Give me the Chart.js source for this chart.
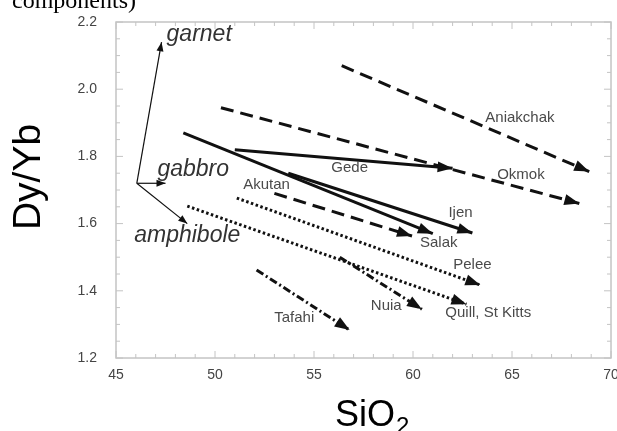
<!DOCTYPE html>
<html>
<head>
<meta charset="utf-8">
<script src="https://cdn.jsdelivr.net/npm/chart.js@4/dist/chart.umd.min.js"></script>
<style>
  html, body { margin: 0; padding: 0; background: #fff; }
  #wrap { width: 617px; height: 431px; position: relative; }
</style>
</head>
<body>
<div id="wrap"><canvas id="dyyb"></canvas></div>
<script>
// arrows: start and end of each trend (SiO2, Dy/Yb)
var arrowNames = ['garnet', 'gabbro', 'amphibole', 'Salak', 'Ijen', 'Gede', 'Aniakchak', 'Okmok', 'Akutan', 'Pelee', 'Quill', 'Nuia', 'Tafahi'];
var startSiO2 = [46.05, 46.05, 46.05, 48.4, 53.7, 51.0, 56.4, 50.3, 53.0, 51.1, 48.6, 56.3, 52.1];
var startDyYb = [1.72, 1.72, 1.72, 1.87, 1.75, 1.82, 2.07, 1.945, 1.69, 1.676, 1.652, 1.50, 1.462];
var endSiO2 = [47.3, 47.5, 48.6, 61.0, 63.0, 62.0, 68.9, 68.4, 59.95, 63.4, 62.7, 60.45, 56.8];
var endDyYb = [2.14, 1.72, 1.60, 1.57, 1.572, 1.765, 1.755, 1.66, 1.563, 1.417, 1.36, 1.345, 1.283];

// volcano labels
var volcanoLabels = ['Aniakchak', 'Okmok', 'Gede', 'Ijen', 'Salak', 'Pelee', 'Quill, St Kitts', 'Nuia', 'Tafahi', 'Akutan'];
var volcanoSiO2 = [65.4, 65.45, 56.8, 62.4, 61.3, 63.0, 63.8, 58.65, 54.0, 52.6];
var volcanoDyYb = [1.914, 1.745, 1.765, 1.631, 1.542, 1.477, 1.334, 1.355, 1.319, 1.715];

// mineral labels
var mineralLabels = ['garnet', 'gabbro', 'amphibole'];
var mineralSiO2 = [49.2, 48.9, 48.6];
var mineralDyYb = [2.161, 1.760, 1.563];

// axis ticks
var xTicks = [45, 50, 55, 60, 65, 70];
var yTicks = [1.2, 1.4, 1.6, 1.8, 2.0, 2.2];

var lineStyle = {
  thin: { width: 1.2, dash: [], head: [9, 3.5] },
  solid: { width: 3, dash: [], head: [15, 5.5] },
  dashed: { width: 3, dash: [13, 7], head: [15, 5.5] },
  dotted: { width: 3, dash: [2.5, 2.5], head: [15, 5.5] },
  dashdot: { width: 3, dash: [8, 3, 2, 3], head: [15, 5.5] }
};
var kindOf = {
  garnet: 'thin', gabbro: 'thin', amphibole: 'thin',
  Salak: 'solid', Ijen: 'solid', Gede: 'solid',
  Aniakchak: 'dashed', Okmok: 'dashed', Akutan: 'dashed',
  Pelee: 'dotted', Quill: 'dotted',
  Nuia: 'dashdot', Tafahi: 'dashdot'
};

var datasets = arrowNames.map(function (name, i) {
  var st = lineStyle[kindOf[name]];
  return {
    label: name,
    data: [{ x: startSiO2[i], y: startDyYb[i] }, { x: endSiO2[i], y: endDyYb[i] }],
    showLine: true,
    borderColor: '#111',
    borderWidth: st.width,
    borderDash: st.dash,
    borderCapStyle: 'butt',
    pointRadius: 0,
    fill: false
  };
});

// arrow heads at the end point of each line
var arrowHeads = {
  id: 'arrowHeads',
  afterDatasetsDraw: function (chart) {
    var ctx = chart.ctx;
    chart.data.datasets.forEach(function (ds, i) {
      var pts = chart.getDatasetMeta(i).data;
      var a = pts[0], b = pts[1];
      var head = lineStyle[kindOf[ds.label]].head;
      var ang = Math.atan2(b.y - a.y, b.x - a.x);
      ctx.save();
      ctx.translate(b.x, b.y);
      ctx.rotate(ang);
      ctx.fillStyle = '#111';
      ctx.beginPath();
      ctx.moveTo(0, 0);
      ctx.lineTo(-head[0], -head[1]);
      ctx.lineTo(-head[0], head[1]);
      ctx.closePath();
      ctx.fill();
      ctx.restore();
    });
  }
};

// frame with inward ticks and all text
var frame = {
  id: 'frame',
  afterDraw: function (chart) {
    var ctx = chart.ctx, ca = chart.chartArea;
    var xs = chart.scales.x, ys = chart.scales.y;
    ctx.save();
    ctx.strokeStyle = '#c4c4c4';
    ctx.lineWidth = 1.5;
    ctx.strokeRect(ca.left, ca.top, ca.right - ca.left, ca.bottom - ca.top);
    ctx.lineWidth = 1;
    for (var v = 45; v <= 70; v++) {
      var px = xs.getPixelForValue(v);
      var len = v % 5 === 0 ? 7 : 4;
      ctx.beginPath();
      ctx.moveTo(px, ca.bottom); ctx.lineTo(px, ca.bottom - len);
      ctx.moveTo(px, ca.top); ctx.lineTo(px, ca.top + len);
      ctx.stroke();
    }
    for (var k = 0; k <= 20; k++) {
      var val = 1.2 + k * 0.05;
      var py = ys.getPixelForValue(val);
      var l2 = k % 4 === 0 ? 7 : 4;
      ctx.beginPath();
      ctx.moveTo(ca.left, py); ctx.lineTo(ca.left + l2, py);
      ctx.moveTo(ca.right, py); ctx.lineTo(ca.right - l2, py);
      ctx.stroke();
    }

    // volcano names
    ctx.fillStyle = '#4a4a4a';
    ctx.font = '15px "Liberation Sans", Arial, sans-serif';
    ctx.textAlign = 'center';
    ctx.textBaseline = 'middle';
    volcanoLabels.forEach(function (t, i) {
      ctx.fillText(t, xs.getPixelForValue(volcanoSiO2[i]), ys.getPixelForValue(volcanoDyYb[i]));
    });

    // mineral names
    ctx.fillStyle = '#333';
    ctx.font = 'italic 23px "Liberation Sans", Arial, sans-serif';
    mineralLabels.forEach(function (t, i) {
      ctx.fillText(t, xs.getPixelForValue(mineralSiO2[i]), ys.getPixelForValue(mineralDyYb[i]));
    });

    // cut-off caption line above the plot
    ctx.fillStyle = '#000';
    ctx.textAlign = 'left';
    ctx.textBaseline = 'alphabetic';
    ctx.font = '24px "Liberation Serif", "Times New Roman", serif';
    ctx.fillText('components)', 12, 8);

    // x axis title SiO2
    ctx.font = '36px "Liberation Sans", Arial, sans-serif';
    ctx.fillText('SiO', 335, 426);
    var w = ctx.measureText('SiO').width;
    ctx.font = '24px "Liberation Sans", Arial, sans-serif';
    ctx.fillText('2', 335 + w + 1, 434);

    // y axis title
    ctx.translate(40, 177);
    ctx.rotate(-Math.PI / 2);
    ctx.textAlign = 'center';
    ctx.font = '39px "Liberation Sans", Arial, sans-serif';
    ctx.fillText('Dy/Yb', 0, 0);
    ctx.restore();
  }
};

var tickFont = { family: '"Liberation Sans", Arial, sans-serif', size: 14 };

new Chart(document.getElementById('dyyb'), {
  type: 'scatter',
  data: { datasets: datasets },
  options: {
    responsive: true,
    maintainAspectRatio: false,
    animation: false,
    layout: { padding: { left: 0, right: 6, top: 22, bottom: 0 } },
    plugins: {
      legend: { display: false },
      tooltip: { enabled: false },
      title: { display: false }
    },
    scales: {
      x: {
        type: 'linear',
        min: 45,
        max: 70,
        afterBuildTicks: function (s) { s.ticks = xTicks.map(function (v) { return { value: v }; }); },
        afterFit: function (s) { s.height = 73; s.paddingLeft = 0; s.paddingRight = 0; },
        grid: { display: false, drawTicks: false },
        border: { display: false },
        ticks: { color: '#444', font: tickFont, padding: 9, maxRotation: 0 }
      },
      y: {
        type: 'linear',
        min: 1.2,
        max: 2.2,
        afterBuildTicks: function (s) { s.ticks = yTicks.map(function (v) { return { value: v }; }); },
        afterFit: function (s) { s.width = 116; s.paddingTop = 0; s.paddingBottom = 0; },
        grid: { display: false, drawTicks: false },
        border: { display: false },
        ticks: {
          color: '#444', font: tickFont, padding: 19,
          callback: function (v) { return v.toFixed(1); }
        }
      }
    }
  },
  plugins: [arrowHeads, frame]
});
</script>
</body>
</html>
